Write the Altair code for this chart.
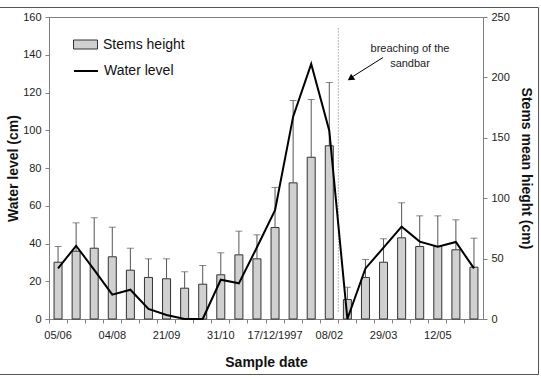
import altair as alt
import pandas as pd
import json

# ---- data ----
date_labels = ["05/06", "", "", "04/08", "", "", "21/09", "", "", "31/10", "", "",
               "17/12/1997", "", "", "08/02", "", "", "29/03", "", "", "12/05", "", ""]
stems_height = [47.0, 56.1, 58.6, 51.5, 40.4, 34.4, 33.3, 25.5, 28.8, 36.6, 53.1, 49.8,
                75.7, 112.7, 133.9, 143.4, 16.1, 34.4, 47.0, 67.2, 60.0, 60.0, 57.3, 42.9]
stems_sd = [13.0, 23.5, 25.2, 24.5, 18.2, 15.4, 16.5, 13.6, 15.5, 18.2, 19.6, 19.9,
            33.2, 68.2, 47.8, 52.4, 10.2, 14.9, 19.4, 29.0, 25.4, 25.4, 24.8, 24.0]
water_level = [26.8, 38.8, 26.0, 12.9, 15.5, 5.3, 2.1, 0.0, 0.0, 20.8, 18.9, 38.0,
               57.6, 107.2, 135.1, 99.8, 0.0, 26.8, 37.8, 48.9, 41.0, 38.3, 40.8, 26.8]
breach_index = 16
breach_span = [4, 155]

FONT = "Liberation Sans"
W, H = 434, 302
band = W / len(stems_height)

df = pd.DataFrame({
    "idx": list(range(len(stems_height))),
    "stems": stems_height,
    "upper": [m + s for m, s in zip(stems_height, stems_sd)],
    "water": water_level,
    "s": ["Stems height"] * len(stems_height),
    "w": ["Water level"] * len(stems_height),
})

label_expr = json.dumps(date_labels) + "[datum.value]"

x_main = alt.X(
    "idx:O",
    scale=alt.Scale(paddingInner=0, paddingOuter=0),
    axis=alt.Axis(
        title="Sample date", labelExpr=label_expr, labelAngle=0, bandPosition=0,
        tickSize=4, tickColor="#808080", domainColor="#808080",
        labelFontSize=11, labelFont=FONT, labelColor="#222", labelPadding=6,
        titleFont=FONT, titleFontSize=14, titleFontWeight="bold", titleColor="#111",
        titlePadding=15, labelOverlap=False, grid=False,
    ),
)

y_right = alt.Scale(domain=[0, 250], nice=False)
y_left = alt.Scale(domain=[0, 160], nice=False)

base = alt.Chart(df)

bars = base.mark_bar(size=8, stroke="#333", strokeWidth=1).encode(
    x=x_main,
    y=alt.Y("stems:Q", scale=y_right, axis=alt.Axis(
        orient="right", values=list(range(0, 251, 50)), title="Stems mean hieght (cm)",
        tickSize=4, tickColor="#808080", domainColor="#808080", grid=False,
        labelFontSize=11, labelFont=FONT, labelColor="#222", labelPadding=4,
        titleFont=FONT, titleFontSize=14, titleFontWeight="bold", titleColor="#111",
        titlePadding=9,
    )),
    fill=alt.Fill("s:N", scale=alt.Scale(domain=["Stems height"], range=["#d0d0d0"]),
                  legend=alt.Legend(orient="none", legendX=24, legendY=15, title=None,
                                    symbolType="M-1,-0.375H1V0.375H-1Z", symbolSize=576,
                                    symbolStrokeColor="#333", symbolStrokeWidth=1,
                                    labelFontSize=14, labelFont=FONT, labelColor="#111",
                                    labelOffset=5)),
)

err = base.mark_rule(color="#555", strokeWidth=1).encode(
    x=x_main,
    y=alt.Y("stems:Q", scale=y_right, axis=None),
    y2="upper:Q",
)
caps = base.mark_tick(color="#555", size=7, thickness=1).encode(
    x=x_main,
    y=alt.Y("upper:Q", scale=y_right, axis=None),
)

line = base.mark_line(strokeWidth=2).encode(
    x=x_main,
    y=alt.Y("water:Q", scale=y_left, axis=alt.Axis(
        orient="left", values=list(range(0, 161, 20)), title="Water level (cm)",
        tickSize=4, tickColor="#808080", domainColor="#808080", grid=False,
        labelFontSize=11, labelFont=FONT, labelColor="#222", labelPadding=4,
        titleFont=FONT, titleFontSize=14, titleFontWeight="bold", titleColor="#111",
        titlePadding=2,
    )),
    stroke=alt.Stroke("w:N", scale=alt.Scale(domain=["Water level"], range=["black"]),
                      legend=alt.Legend(orient="none", legendX=24, legendY=41, title=None,
                                        symbolType="stroke", symbolSize=576,
                                        symbolStrokeWidth=2,
                                        labelFontSize=14, labelFont=FONT, labelColor="#111",
                                        labelOffset=5)),
)

breach_df = pd.DataFrame({"idx": [breach_index], "lo": [breach_span[0]], "hi": [breach_span[1]]})
breach = alt.Chart(breach_df).mark_rule(color="#777", strokeWidth=1, strokeDash=[1, 2],
                                        xOffset=-band / 2).encode(
    x=x_main,
    y=alt.Y("lo:Q", scale=y_left, axis=None),
    y2="hi:Q",
)

note_df = pd.DataFrame({"t": [["breaching of the", "sandbar"]]})
note = alt.Chart(note_df).mark_text(font=FONT, fontSize=11, color="#222", align="center",
                                    baseline="middle", lineHeight=15).encode(
    text="t", x=alt.value(361), y=alt.value(32))
arrow_line = alt.Chart(note_df).mark_rule(color="black", strokeWidth=1).encode(
    x=alt.value(334), x2=alt.value(303), y=alt.value(40.5), y2=alt.value(60))
arrow_head = alt.Chart(note_df).mark_point(shape="triangle-up", filled=True, color="black",
                                           size=55, angle=236, opacity=1).encode(
    x=alt.value(301.5), y=alt.value(61.5))

frame = alt.Chart(note_df).mark_rect(fill=None, stroke="#555", strokeWidth=1).encode(
    x=alt.value(-60), x2=alt.value(489.5), y=alt.value(-9.5), y2=alt.value(357.5))

chart = alt.layer(
    frame, bars, err, caps, breach, line, note, arrow_line, arrow_head
).resolve_scale(y="independent").properties(
    width=W, height=H,
    autosize=alt.AutoSizeParams(type="none"),
    padding={"left": 49, "top": 17, "right": 58, "bottom": 58},
    background="white",
).configure_view(stroke="#808080", strokeWidth=1)

chart.save("out.html", embed_options={"renderer": "svg", "actions": False})
